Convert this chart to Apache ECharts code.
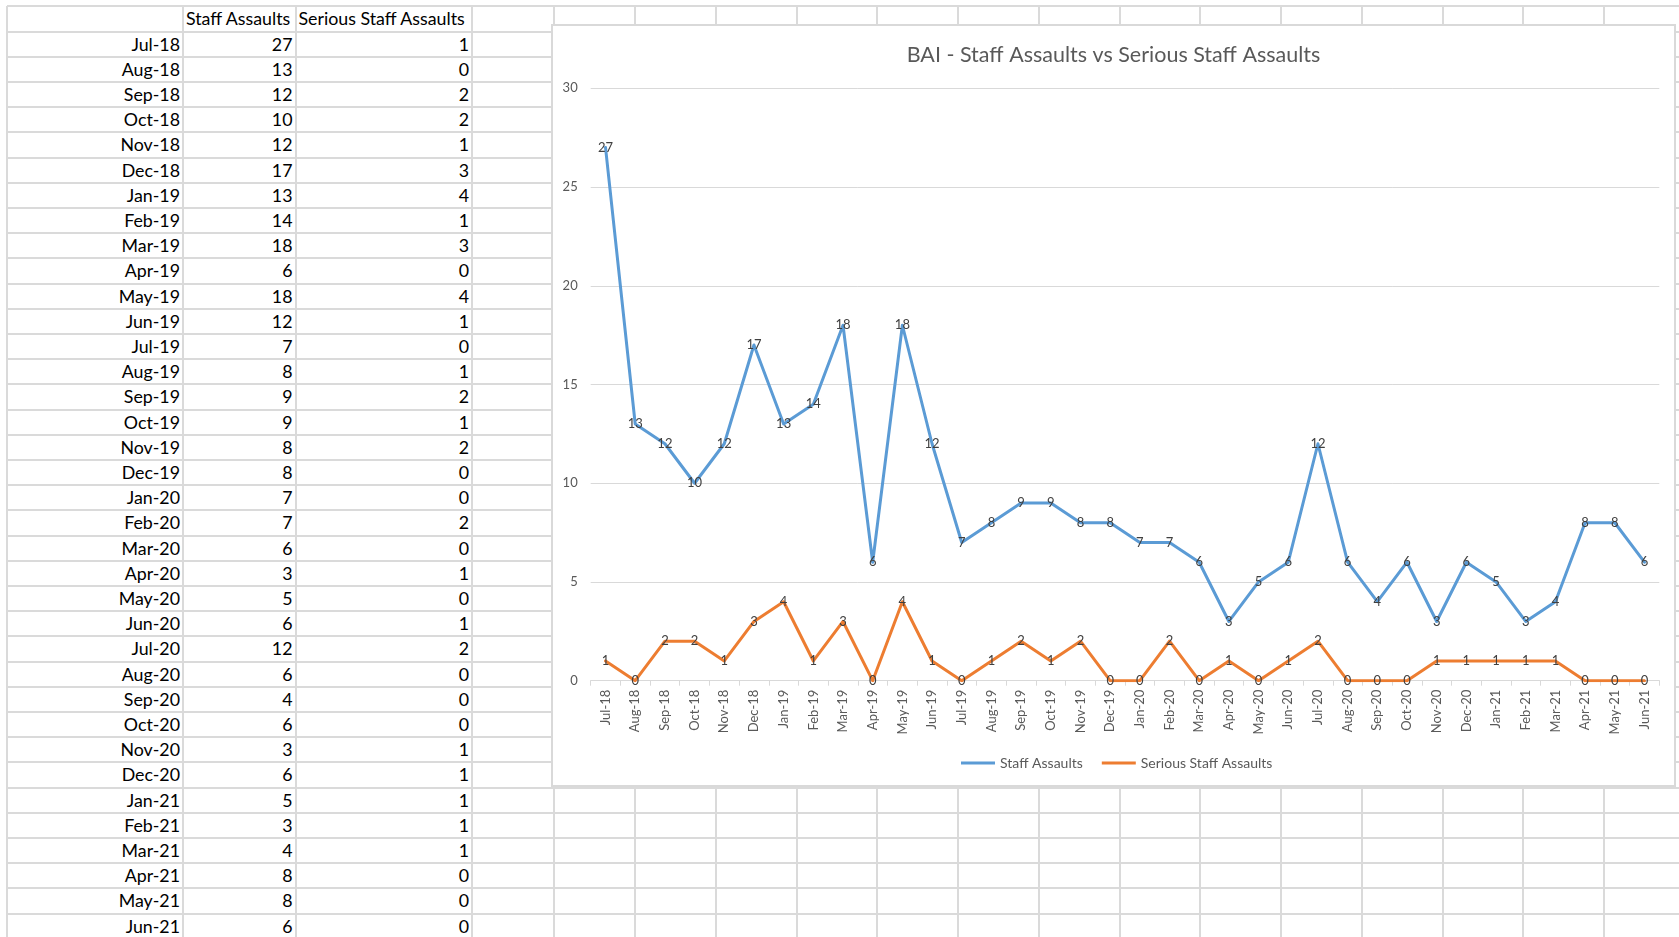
<!DOCTYPE html>
<html>
<head>
<meta charset="utf-8">
<title>BAI - Staff Assaults vs Serious Staff Assaults</title>
<script src="https://cdn.jsdelivr.net/npm/echarts@6/dist/echarts.min.js"></script>
<style>
	html, body {
		margin: 0;
		padding: 0;
		width: 1679px;
		height: 937px;
		overflow: hidden;
		background: #FFFFFF;
		font-family: Lato, "Open Sans", sans-serif;
	}

	.vline, .hline {
		position: absolute;
		background: #DADADA;
	}

	.cell {
		position: absolute;
		font-size: 17.8px;
		color: #000000;
		white-space: nowrap;
		line-height: 25px;
	}

	.chartBox {
		position: absolute;
		left: 551px;
		top: 24px;
		width: 1125px;
		height: 763px;
		box-sizing: border-box;
		border: 2px solid #D9D9D9;
		background: #FFFFFF;
	}

	#echarts {
		width: 1121px;
		height: 759px;
	}
</style>
</head>
<body>
<div id="sheet"></div>
<div class="chartBox"><div id="echarts"></div></div>

<script>
	// table data
	var months = ['Jul-18', 'Aug-18', 'Sep-18', 'Oct-18', 'Nov-18', 'Dec-18',
		'Jan-19', 'Feb-19', 'Mar-19', 'Apr-19', 'May-19', 'Jun-19',
		'Jul-19', 'Aug-19', 'Sep-19', 'Oct-19', 'Nov-19', 'Dec-19',
		'Jan-20', 'Feb-20', 'Mar-20', 'Apr-20', 'May-20', 'Jun-20',
		'Jul-20', 'Aug-20', 'Sep-20', 'Oct-20', 'Nov-20', 'Dec-20',
		'Jan-21', 'Feb-21', 'Mar-21', 'Apr-21', 'May-21', 'Jun-21'];
	var staffAssaults = [27, 13, 12, 10, 12, 17, 13, 14, 18, 6, 18, 12,
		7, 8, 9, 9, 8, 8, 7, 7, 6, 3, 5, 6,
		12, 6, 4, 6, 3, 6, 5, 3, 4, 8, 8, 6];
	var seriousAssaults = [1, 0, 2, 2, 1, 3, 4, 1, 3, 0, 4, 1,
		0, 1, 2, 1, 2, 0, 0, 2, 0, 1, 0, 1,
		2, 0, 0, 0, 1, 1, 1, 1, 1, 0, 0, 0];
	var headers = ['Staff Assaults', 'Serious Staff Assaults'];
	var chartTitle = 'BAI - Staff Assaults vs Serious Staff Assaults';

	// spreadsheet grid
	var sheet = document.getElementById('sheet');
	var colX = [7, 183, 295.5, 472, 554.3];
	while (colX[colX.length - 1] < 1679) {
		colX.push(colX[colX.length - 1] + 80.75);
	}
	var rowY = [6, 31.5];
	while (rowY[rowY.length - 1] < 937) {
		rowY.push(rowY[rowY.length - 1] + 25.2);
	}

	function addDiv(cls, css, text) {
		var d = document.createElement('div');
		d.className = cls;
		for (var k in css) {
			d.style[k] = css[k];
		}
		if (text !== undefined) d.textContent = text;
		sheet.appendChild(d);
		return d;
	}

	for (var i = 0; i < colX.length; i++) {
		addDiv('vline', {left: (colX[i] - 1) + 'px', top: '6px', width: '2px', height: '931px'});
	}
	for (var j = 0; j < rowY.length; j++) {
		addDiv('hline', {left: '7px', top: (rowY[j] - 1) + 'px', width: '1672px', height: '2px'});
	}

	function cellText(col, row, text, align) {
		var left = colX[col], right = colX[col + 1];
		var css = {
			top: rowY[row] + 'px',
			height: (rowY[row + 1] - rowY[row]) + 'px',
			left: (left + 3) + 'px',
			width: (right - left - 6) + 'px',
			textAlign: align
		};
		addDiv('cell', css, text);
	}

	cellText(1, 0, headers[0], 'left');
	cellText(2, 0, headers[1], 'left');
	for (var r = 0; r < months.length; r++) {
		cellText(0, r + 1, months[r], 'right');
		cellText(1, r + 1, String(staffAssaults[r]), 'right');
		cellText(2, r + 1, String(seriousAssaults[r]), 'right');
	}

	// chart
	var myChart = echarts.init(document.getElementById('echarts'));
	var labelStyle = {
		show: true,
		position: 'inside',
		color: '#404040',
		fontSize: 13,
		fontFamily: 'Lato'
	};
	var option = {
		animation: false,
		color: ['#5B9BD5', '#ED7D31'],
		textStyle: {
			fontFamily: 'Lato'
		},
		title: {
			text: chartTitle,
			left: 'center',
			top: 13,
			textStyle: {
				color: '#595959',
				fontSize: 21.5,
				fontWeight: 'normal',
				fontFamily: 'Lato'
			}
		},
		legend: {
			data: headers,
			left: 403,
			top: 725,
			icon: 'rect',
			itemWidth: 34,
			itemHeight: 3,
			itemGap: 19,
			textStyle: {
				color: '#595959',
				fontSize: 14
			}
		},
		grid: {
			left: 37.7,
			top: 62.3,
			right: 14.7,
			bottom: 104.3
		},
		xAxis: {
			type: 'category',
			data: months,
			boundaryGap: true,
			axisLine: {
				lineStyle: {color: '#D9D9D9', width: 1}
			},
			axisTick: {
				show: true,
				length: 5,
				lineStyle: {color: '#D9D9D9'}
			},
			axisLabel: {
				interval: 0,
				rotate: 90,
				margin: 9,
				color: '#595959',
				fontSize: 13
			}
		},
		yAxis: {
			type: 'value',
			min: 0,
			max: 30,
			interval: 5,
			axisLine: {show: false},
			axisTick: {show: false},
			axisLabel: {
				margin: 13,
				color: '#595959',
				fontSize: 13
			},
			splitLine: {
				lineStyle: {color: '#D9D9D9', width: 1}
			}
		},
		series: [{
			name: headers[0],
			type: 'line',
			data: staffAssaults,
			symbol: 'circle',
			symbolSize: 2,
			lineStyle: {width: 3, cap: 'round', join: 'round'},
			label: labelStyle
		}, {
			name: headers[1],
			type: 'line',
			data: seriousAssaults,
			symbol: 'circle',
			symbolSize: 2,
			lineStyle: {width: 3, cap: 'round', join: 'round'},
			label: labelStyle
		}]
	};
	myChart.setOption(option);
</script>
</body>
</html>
